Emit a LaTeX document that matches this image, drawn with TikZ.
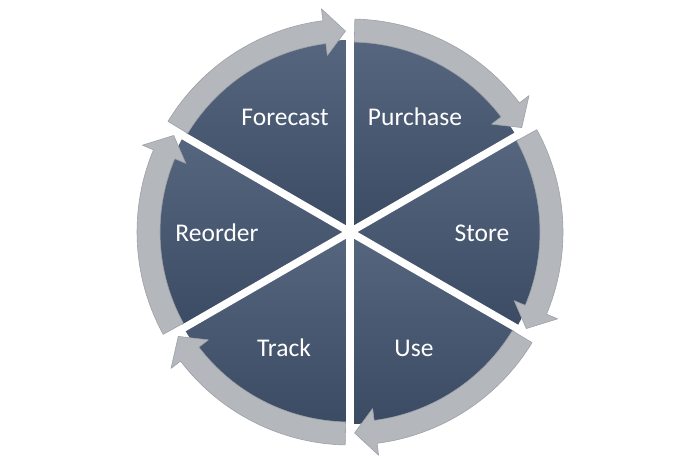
\documentclass[tikz,border=0pt]{standalone}
\usepackage{fontspec}
\setmainfont{Carlito}
\definecolor{blueTop}{HTML}{56667E}
\definecolor{blueBot}{HTML}{3B4B64}
\definecolor{ringgray}{HTML}{B4B7BC}
\definecolor{ringedge}{HTML}{9DA1A8}
\tikzset{
  lbl/.style={text=white, font=\fontsize{25.5}{30}\selectfont, inner sep=0pt},
  gapline/.style={white, line width=7.5pt},
  ringarrow/.style={fill=ringgray, draw=ringedge, line width=0.6pt, line join=round},
  sector/.style={top color=blueTop, bottom color=blueBot}
}
\begin{document}
\begin{tikzpicture}[x=1pt,y=1pt]
\useasboundingbox (0,0) rectangle (700,-467);
\fill[white] (0,0) rectangle (700,-467);
\begin{scope}[shift={(350,-232)}]
  % blue sectors
  \foreach \s in {150,90,30,-30,-90,-150}{
    \pgfmathsetmacro{\e}{\s-60}
    \shade[sector] (0,0) -- (\s:192pt) arc[start angle=\s, end angle=\e, radius=192pt] -- cycle;
  }
  % white gaps
  \foreach \s in {150,90,30,-30,-90,-150}{
    \draw[gapline] (0,0) -- (\s:196pt);
  }
  \fill[white] (0,0) circle (7pt);
  % ring arrows (clockwise)
  \foreach \s in {150,90,30,-30,-90,-150}{
    \pgfmathsetmacro{\a}{\s-1.3}
    \pgfmathsetmacro{\t}{\s-60+1.3}
    \pgfmathsetmacro{\b}{\s-60+1.3+6}
    \draw[ringarrow] (\a:213pt) arc[start angle=\a, end angle=\b, radius=213pt]
      -- (\b:225pt) -- (\t:201pt) -- (\b:178pt) -- (\b:190pt)
      arc[start angle=\b, end angle=\a, radius=190pt] -- cycle;
  }
\end{scope}
\node[lbl] (forecast) at (285,-117) {Forecast};
\node[lbl] (purchase) at (415,-117) {Purchase};
\node[lbl] (reorder) at (217,-233) {Reorder};
\node[lbl] (store) at (482,-233) {Store};
\node[lbl] (track) at (284,-348) {Track};
\node[lbl] (use) at (414,-348) {Use};
\end{tikzpicture}
\end{document}
